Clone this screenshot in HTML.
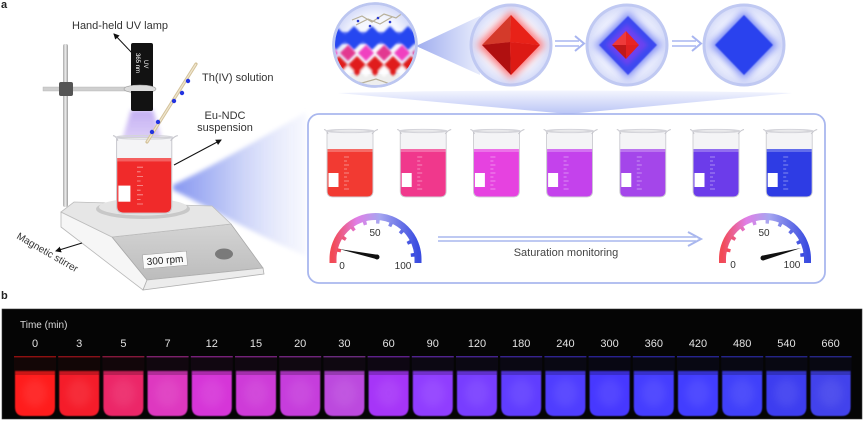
<!DOCTYPE html>
<html><head><meta charset="utf-8">
<style>
html,body{margin:0;padding:0;background:#fff;}
svg{display:block;font-family:"Liberation Sans",sans-serif;}
</style></head><body>
<svg width="865" height="422" viewBox="0 0 865 422" xmlns="http://www.w3.org/2000/svg" xmlns:xlink="http://www.w3.org/1999/xlink">
<defs>
 <filter id="b06" x="-20%" y="-20%" width="140%" height="140%"><feGaussianBlur stdDeviation="0.6"/></filter>
 <filter id="b1" x="-30%" y="-30%" width="160%" height="160%"><feGaussianBlur stdDeviation="1"/></filter>
 <filter id="b2" x="-40%" y="-40%" width="180%" height="180%"><feGaussianBlur stdDeviation="2"/></filter>
 <filter id="b4" x="-60%" y="-60%" width="220%" height="220%"><feGaussianBlur stdDeviation="4"/></filter>
 <filter id="b6" x="-60%" y="-60%" width="220%" height="220%"><feGaussianBlur stdDeviation="6"/></filter>
 <radialGradient id="sph" cx="50%" cy="50%" r="50%">
  <stop offset="0" stop-color="#ffffff"/><stop offset="0.7" stop-color="#f3f5fe"/><stop offset="1" stop-color="#d3d9f8"/>
 </radialGradient>
 <linearGradient id="funnel" x1="0" x2="1" y1="0" y2="0">
  <stop offset="0" stop-color="#7a8cf0"/><stop offset="0.4" stop-color="#b4bff5"/><stop offset="1" stop-color="#eef0fd" stop-opacity="0.5"/>
 </linearGradient>
 <linearGradient id="band" x1="0" x2="0" y1="0" y2="1">
  <stop offset="0" stop-color="#f2f4fe"/><stop offset="1" stop-color="#b2bef4"/>
 </linearGradient>
 <linearGradient id="call" x1="0" x2="1" y1="0" y2="0">
  <stop offset="0" stop-color="#9fadef"/><stop offset="1" stop-color="#e8ecfc"/>
 </linearGradient>
 <linearGradient id="gauge" x1="0" x2="1" y1="0" y2="0">
  <stop offset="0" stop-color="#f24a55"/><stop offset="0.28" stop-color="#e07ee6"/><stop offset="0.55" stop-color="#a6a6f0"/><stop offset="1" stop-color="#3a4ce0"/>
 </linearGradient>
 <linearGradient id="pole" x1="0" x2="1" y1="0" y2="0">
  <stop offset="0" stop-color="#a9a9a9"/><stop offset="0.5" stop-color="#eeeeee"/><stop offset="1" stop-color="#9c9c9c"/>
 </linearGradient>
 <linearGradient id="panelg" x1="0" x2="0" y1="0" y2="1">
  <stop offset="0" stop-color="#d4d4d4"/><stop offset="1" stop-color="#bcbcbc"/>
 </linearGradient>
 <linearGradient id="glow" x1="0" x2="0" y1="0" y2="1">
  <stop offset="0" stop-color="#b8a0f0"/><stop offset="1" stop-color="#cdb8f5" stop-opacity="0.7"/>
 </linearGradient>
 <clipPath id="c1"><circle cx="375" cy="45" r="40"/></clipPath>
 <marker id="ah" markerWidth="6" markerHeight="6" refX="5" refY="3" orient="auto" markerUnits="userSpaceOnUse">
  <path d="M0,0 L6,3 L0,6 Z" fill="#111"/>
 </marker>

 <g id="bk">
  <path d="M3,2 L49,2 L49,62 Q49,68 43,68 L9,68 Q3,68 3,62 Z" fill="#f4f4f6" stroke="#c6c6cc" stroke-width="0.8"/>
  <path d="M3.5,20 L48.5,20 L48.5,62 Q48.5,67.5 43,67.5 L9,67.5 Q3.5,67.5 3.5,62 Z" fill="currentColor"/>
  <rect x="3.5" y="20" width="45" height="3" fill="#fff" opacity="0.25"/>
  <path d="M0,0.5 Q3,1 4,5 M54,0.5 Q51,1 48,5" fill="none" stroke="#c6c6cc" stroke-width="1"/>
  <ellipse cx="26" cy="2" rx="24" ry="1.6" fill="none" stroke="#d4d4da" stroke-width="1"/>
  <rect x="4.5" y="44" width="10" height="14" fill="#fff"/>
  <path d="M20,28h5M20,36h5M20,44h5M20,52h5M20,60h5M20,32h3M20,40h3M20,48h3M20,56h3" stroke="#fff" stroke-opacity="0.55" stroke-width="0.7"/>
 </g>

 <g id="vial">
  <rect x="-21" y="357" width="42" height="14" fill="currentColor" opacity="0.06"/>
  <rect x="-21" y="356" width="42" height="1.4" fill="currentColor" opacity="0.55"/>
  <path d="M-20,371 H20 V407 Q20,416 11,416 H-11 Q-20,416 -20,407 Z" fill="currentColor" filter="url(#b06)"/>
  <ellipse cx="0" cy="393" rx="12" ry="14" fill="#fff" opacity="0.07" filter="url(#b4)"/>
  <rect x="-20" y="371" width="40" height="4" fill="#000" opacity="0.2"/>
 </g>
</defs>

<!-- ============ PANEL A ============ -->
<text x="1" y="8" font-size="11" font-weight="bold" fill="#222">a</text>

<path d="M173,185 C205,170 250,145 306,112 L306,256 C250,232 205,205 173,190 Z" fill="url(#funnel)" filter="url(#b2)" opacity="0.9"/>

<polygon points="61,212 61,227 143,290 147,280 112,237" fill="#f6f6f6" stroke="#b8b8b8" stroke-width="0.8"/>
<polygon points="112,237 231,224 263,268 147,280" fill="url(#panelg)" stroke="#a8a8a8" stroke-width="0.8"/>
<polygon points="147,280 263,268 264,274 143,290" fill="#ececec" stroke="#b0b0b0" stroke-width="0.8"/>
<polygon points="61,212 74,202 212,206 231,224 112,237" fill="#e6e6e6" stroke="#bdbdbd" stroke-width="0.8"/>
<g transform="translate(165,260) rotate(-5)">
 <rect x="-22" y="-7" width="44" height="14" fill="#fafafa" stroke="#999" stroke-width="0.5"/>
 <text x="0" y="3.5" font-size="10" text-anchor="middle" fill="#222">300 rpm</text>
</g>
<ellipse cx="224" cy="254" rx="9" ry="5.5" fill="#7a7a7a"/>

<rect x="63" y="44" width="5" height="163" rx="2" fill="url(#pole)"/>
<rect x="43" y="87" width="90" height="4" fill="#cfcfcf" stroke="#b0b0b0" stroke-width="0.4"/>
<rect x="59" y="82" width="14" height="14" rx="2" fill="#555"/>

<ellipse cx="143" cy="209" rx="47" ry="10" fill="#c8c8c8"/>
<ellipse cx="143" cy="207" rx="44" ry="8.5" fill="#e4e4e4"/>

<path d="M131,110 L153,110 L163,143 Q142,150 121,143 Z" fill="url(#glow)" filter="url(#b2)" opacity="0.85"/>

<use href="#bk" xlink:href="#bk" transform="translate(113,135) scale(1.2,1.15)" style="color:#f02a2a"/>

<line x1="196" y1="64" x2="147" y2="142" stroke="#d4c29a" stroke-width="3.2" stroke-linecap="round"/>
<line x1="196" y1="64" x2="147" y2="142" stroke="#efe6cf" stroke-width="1.2"/>
<g fill="#2233e0">
 <circle cx="188" cy="81" r="2.2"/><circle cx="182" cy="93" r="2.2"/><circle cx="174" cy="101" r="2.2"/>
 <circle cx="158" cy="122" r="2.2"/><circle cx="152" cy="132" r="2.2"/>
</g>

<rect x="131" y="43" width="22" height="68" rx="2" fill="#121212"/>
<ellipse cx="140" cy="89" rx="16" ry="4" fill="#dcdcdc" stroke="#9a9a9a" stroke-width="0.6"/>
<rect x="131" y="91" width="22" height="3" fill="#121212"/>
<text transform="translate(144,60) rotate(90)" font-size="6" fill="#fff">UV</text>
<text transform="translate(136,53) rotate(90)" font-size="6" fill="#fff">365 nm</text>

<text x="72" y="29" font-size="11" fill="#333">Hand-held UV lamp</text>
<line x1="133" y1="54" x2="114" y2="34" stroke="#111" stroke-width="1" marker-end="url(#ah)"/>
<text x="202" y="81" font-size="11" fill="#333">Th(IV) solution</text>
<text x="225" y="119" font-size="11" fill="#333" text-anchor="middle">Eu-NDC</text>
<text x="225" y="131" font-size="11" fill="#333" text-anchor="middle">suspension</text>
<line x1="174" y1="165" x2="221" y2="140" stroke="#111" stroke-width="1" marker-end="url(#ah)"/>
<text transform="translate(16,238) rotate(30)" font-size="10" fill="#333">Magnetic stirrer</text>
<line x1="82" y1="243" x2="56" y2="251" stroke="#111" stroke-width="1" marker-end="url(#ah)"/>

<path d="M338,93 Q565,88 792,93 L568,114 Z" fill="url(#band)" opacity="0.9"/>

<rect x="308" y="114" width="517" height="169" rx="11" fill="#fff" stroke="#a9b7ee" stroke-width="1.8"/>

<use href="#bk" xlink:href="#bk" x="324" y="129" style="color:#f23a32"/>
<use href="#bk" xlink:href="#bk" x="397.2" y="129" style="color:#f0388c"/>
<use href="#bk" xlink:href="#bk" x="470.4" y="129" style="color:#e642e0"/>
<use href="#bk" xlink:href="#bk" x="543.6" y="129" style="color:#c442ec"/>
<use href="#bk" xlink:href="#bk" x="616.8" y="129" style="color:#a446ea"/>
<use href="#bk" xlink:href="#bk" x="690" y="129" style="color:#6c3cea"/>
<use href="#bk" xlink:href="#bk" x="763.2" y="129" style="color:#2e3ce4"/>

<g transform="translate(375.5,259)">
 <path d="M-42.5,4 V0 A42.5,42.5 0 0 1 42.5,0 V4" fill="none" stroke="url(#gauge)" stroke-width="7"/>
 <path d="M-37.5,0 A37.5,37.5 0 0 1 37.5,0" fill="none" stroke="url(#gauge)" stroke-width="4" stroke-dasharray="3.5 9.6" stroke-dashoffset="-7"/>
 <text x="-0.5" y="-23" font-size="10" text-anchor="middle" fill="#333">50</text>
 <text x="-33.5" y="10" font-size="10" text-anchor="middle" fill="#333">0</text>
 <text x="27.5" y="10" font-size="10" text-anchor="middle" fill="#333">100</text>
</g>
<polygon points="339,249 376.5,254.6 377.5,259.4" fill="#111"/>
<circle cx="377" cy="257" r="2.5" fill="#111"/>

<g transform="translate(765,259)">
 <path d="M-42.5,4 V0 A42.5,42.5 0 0 1 42.5,0 V4" fill="none" stroke="url(#gauge)" stroke-width="7"/>
 <path d="M-37.5,0 A37.5,37.5 0 0 1 37.5,0" fill="none" stroke="url(#gauge)" stroke-width="4" stroke-dasharray="3.5 9.6" stroke-dashoffset="-7"/>
 <text x="-1" y="-23" font-size="10" text-anchor="middle" fill="#333">50</text>
 <text x="-32" y="9" font-size="10" text-anchor="middle" fill="#333">0</text>
 <text x="27" y="9" font-size="10" text-anchor="middle" fill="#333">100</text>
</g>
<polygon points="801,248 763.6,260.4 762.4,255.6" fill="#111"/>
<circle cx="763" cy="258" r="2.5" fill="#111"/>

<line x1="438" y1="237" x2="696" y2="237" stroke="#a9b7ee" stroke-width="1.6"/>
<line x1="438" y1="241" x2="696" y2="241" stroke="#a9b7ee" stroke-width="1.6"/>
<path d="M688,232 L701,239 L688,246" fill="none" stroke="#a9b7ee" stroke-width="2"/>
<text x="566" y="256" font-size="11" text-anchor="middle" fill="#444">Saturation monitoring</text>

<path d="M416,46 L480,16 L480,75 Z" fill="url(#call)"/>

<circle cx="375" cy="45" r="41.5" fill="url(#sph)" stroke="#bcc6f0" stroke-width="2.5"/>
<g clip-path="url(#c1)">
 <rect x="330" y="74" width="90" height="16" fill="#eeeeee"/>
 <g filter="url(#b1)">
  <rect x="330" y="32" width="90" height="12" fill="#2846f0" opacity="0.8"/>
  <g fill="#2846f0">
   <polygon points="336,26 348,38 336,50 324,38"/><polygon points="354,26 366,38 354,50 342,38"/>
   <polygon points="372,26 384,38 372,50 360,38"/><polygon points="390,26 402,38 390,50 378,38"/>
   <polygon points="408,26 420,38 408,50 396,38"/><polygon points="426,26 438,38 426,50 414,38"/>
  </g>
  <g>
   <polygon points="330,45 338,53 330,61 322,53" fill="#f040c0"/>
   <polygon points="348,45 356,53 348,61 340,53" fill="#e23890"/>
   <polygon points="366,45 374,53 366,61 358,53" fill="#f040c0"/>
   <polygon points="384,45 392,53 384,61 376,53" fill="#e23890"/>
   <polygon points="402,45 410,53 402,61 394,53" fill="#f040c0"/>
   <polygon points="420,45 428,53 420,61 412,53" fill="#e23890"/>
  </g>
  <g fill="#e01c1c">
   <polygon points="339,56 349,66 339,76 329,66"/><polygon points="357,56 367,66 357,76 347,66"/>
   <polygon points="375,56 385,66 375,76 365,66"/><polygon points="393,56 403,66 393,76 383,66"/>
   <polygon points="411,56 421,66 411,76 401,66"/>
  </g>
  <g fill="#ffffff" opacity="0.9">
   <polygon points="348,65 354,71 348,77 342,71"/><polygon points="366,65 372,71 366,77 360,71"/>
   <polygon points="384,65 390,71 384,77 378,71"/><polygon points="402,65 408,71 402,77 396,71"/>
  </g>
 </g>
 <path d="M352,20 L362,16 L372,22 L384,14 L396,18 L404,12 M356,25 L368,19 L380,24 L392,17 M350,80 L362,83 L376,79 L390,84" fill="none" stroke="#b8b09a" stroke-width="1.2"/>
 <g fill="#2a3ad0"><circle cx="358" cy="21" r="1.3"/><circle cx="378" cy="18" r="1.3"/><circle cx="370" cy="26" r="1.3"/><circle cx="390" cy="22" r="1.3"/></g>
</g>
<circle cx="375" cy="45" r="41.5" fill="none" stroke="#bcc6f0" stroke-width="2.5"/>

<circle cx="511" cy="45" r="40" fill="url(#sph)" stroke="#c0c9f2" stroke-width="3"/>
<polygon points="511,11 545,45 511,79 477,45" fill="#ff4a4a" opacity="0.75" filter="url(#b4)"/>
<polygon points="511,15 510,42 482,45" fill="#d43a2a"/>
<polygon points="511,15 540,45 510,42" fill="#e82218"/>
<polygon points="482,45 510,42 511,75" fill="#b01010"/>
<polygon points="510,42 540,45 511,75" fill="#dc1a14"/>

<g stroke="#a8b5f0" fill="none">
 <line x1="555" y1="41" x2="579" y2="41" stroke-width="1.6"/>
 <line x1="555" y1="46" x2="579" y2="46" stroke-width="1.6"/>
 <path d="M575,36 L584,43.5 L575,51" stroke-width="2"/>
 <line x1="672" y1="41" x2="696" y2="41" stroke-width="1.6"/>
 <line x1="672" y1="46" x2="696" y2="46" stroke-width="1.6"/>
 <path d="M692,36 L701,43.5 L692,51" stroke-width="2"/>
</g>

<circle cx="627" cy="45" r="40" fill="url(#sph)" stroke="#c0c9f2" stroke-width="3"/>
<polygon points="628,11 662,45 628,79 594,45" fill="#5060f0" opacity="0.7" filter="url(#b4)"/>
<polygon points="628,16 657,45 628,75 599,45" fill="#3c4af0" filter="url(#b06)"/>
<polygon points="627,24 648,45 627,66 606,45" fill="#8040f0" opacity="0.7" filter="url(#b2)"/>
<polygon points="626,31 626,45 612,45" fill="#ee3a3a"/>
<polygon points="626,31 639,45 626,45" fill="#e82424"/>
<polygon points="612,45 626,45 626,59" fill="#c01818"/>
<polygon points="626,45 639,45 626,59" fill="#e02020"/>

<circle cx="744" cy="45" r="40" fill="url(#sph)" stroke="#c0c9f2" stroke-width="3"/>
<polygon points="744,11 778,45 744,79 710,45" fill="#4055f0" opacity="0.7" filter="url(#b4)"/>
<polygon points="744,15 773,45 744,75 715,45" fill="#2a42ee" filter="url(#b06)"/>

<!-- ============ PANEL B ============ -->
<text x="1" y="299" font-size="11" font-weight="bold" fill="#222">b</text>
<rect x="2" y="309" width="860" height="110" fill="#050505" stroke="#3a3a3a" stroke-width="0.6"/>
<text x="20" y="328" font-size="10" fill="#dcdcdc">Time (min)</text>

<g font-size="11" fill="#e2e2e2" text-anchor="middle">
 <text x="35" y="347">0</text>
 <text x="79.2" y="347">3</text>
 <text x="123.4" y="347">5</text>
 <text x="167.6" y="347">7</text>
 <text x="211.8" y="347">12</text>
 <text x="256" y="347">15</text>
 <text x="300.2" y="347">20</text>
 <text x="344.4" y="347">30</text>
 <text x="388.6" y="347">60</text>
 <text x="432.8" y="347">90</text>
 <text x="477" y="347">120</text>
 <text x="521.2" y="347">180</text>
 <text x="565.4" y="347">240</text>
 <text x="609.6" y="347">300</text>
 <text x="653.8" y="347">360</text>
 <text x="698" y="347">420</text>
 <text x="742.2" y="347">480</text>
 <text x="786.4" y="347">540</text>
 <text x="830.6" y="347">660</text>
</g>

<use href="#vial" xlink:href="#vial" x="35" style="color:#ff1a1a"/>
<use href="#vial" xlink:href="#vial" x="79.2" style="color:#f51c2a"/>
<use href="#vial" xlink:href="#vial" x="123.4" style="color:#ec2868"/>
<use href="#vial" xlink:href="#vial" x="167.6" style="color:#de38c0"/>
<use href="#vial" xlink:href="#vial" x="211.8" style="color:#d636d8"/>
<use href="#vial" xlink:href="#vial" x="256" style="color:#ce3ad8"/>
<use href="#vial" xlink:href="#vial" x="300.2" style="color:#c63edc"/>
<use href="#vial" xlink:href="#vial" x="344.4" style="color:#bc4ade"/>
<use href="#vial" xlink:href="#vial" x="388.6" style="color:#a636f8"/>
<use href="#vial" xlink:href="#vial" x="432.8" style="color:#903cff"/>
<use href="#vial" xlink:href="#vial" x="477" style="color:#783cff"/>
<use href="#vial" xlink:href="#vial" x="521.2" style="color:#603cff"/>
<use href="#vial" xlink:href="#vial" x="565.4" style="color:#503cff"/>
<use href="#vial" xlink:href="#vial" x="609.6" style="color:#4638ff"/>
<use href="#vial" xlink:href="#vial" x="653.8" style="color:#443cff"/>
<use href="#vial" xlink:href="#vial" x="698" style="color:#423eff"/>
<use href="#vial" xlink:href="#vial" x="742.2" style="color:#4040fa"/>
<use href="#vial" xlink:href="#vial" x="786.4" style="color:#3e3ef0"/>
<use href="#vial" xlink:href="#vial" x="830.6" style="color:#4242ec"/>
</svg>
</body></html>
